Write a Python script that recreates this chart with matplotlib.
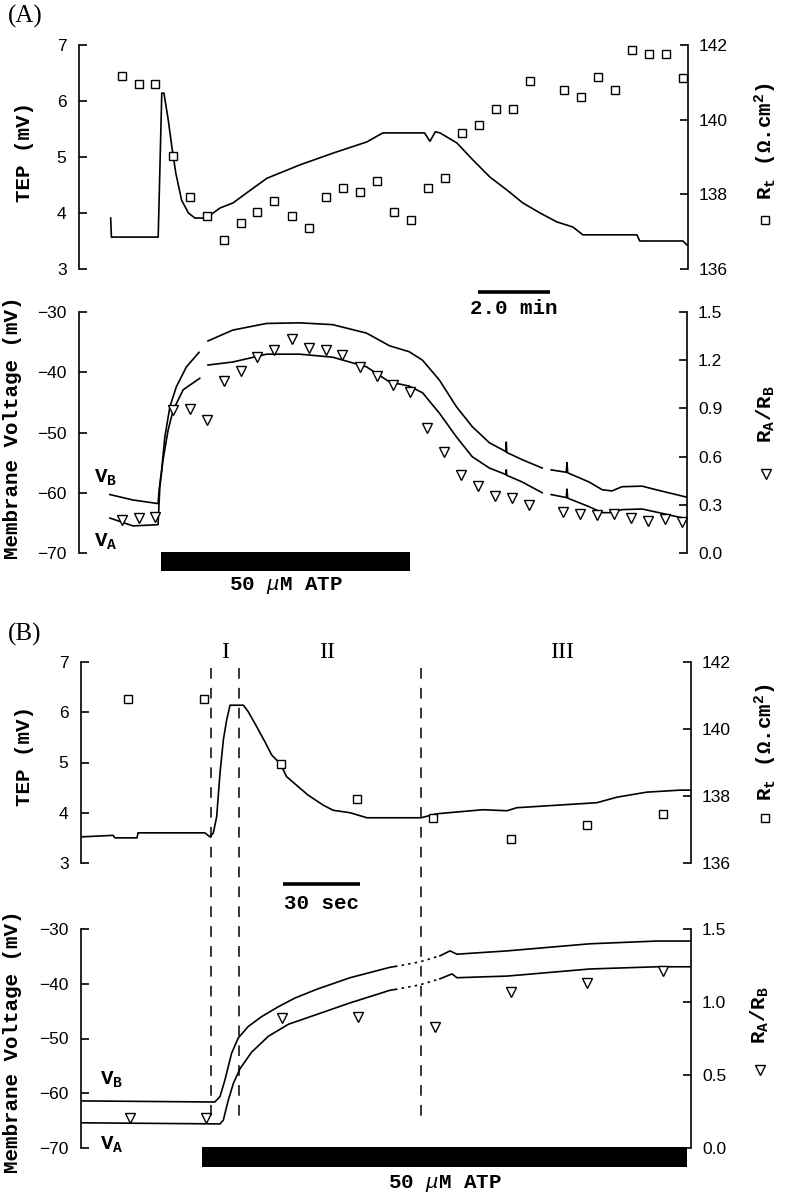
import numpy as np
import matplotlib
matplotlib.use("Agg")
import matplotlib.pyplot as plt
from matplotlib.lines import Line2D
from matplotlib.patches import Rectangle
from matplotlib.transforms import blended_transform_factory

nan = np.nan

# ---------------- panel A (time in min) ----------------
a_tep_t = [0.88, 0.9, 2.2, 2.3, 2.36, 2.48, 2.58, 2.69, 2.85, 3.04, 3.22, 3.45, 3.64, 3.92, 4.28, 4.66, 5.22, 6.14,
           7.06, 8.0, 8.44, 9.6, 9.75, 9.9, 10.03, 10.5, 10.94, 11.42, 11.89, 12.33, 12.81, 13.28, 13.72, 14.0,
           15.5, 15.58, 16.78, 16.89]
a_tep = [3.91, 3.57, 3.57, 6.14, 6.14, 5.66, 5.18, 4.71, 4.23, 4.0, 3.91, 3.91, 3.96, 4.09, 4.18, 4.36, 4.62, 4.86,
         5.07, 5.27, 5.43, 5.43, 5.28, 5.45, 5.43, 5.25, 4.95, 4.64, 4.41, 4.18, 4.0, 3.84, 3.75, 3.61,
         3.61, 3.5, 3.5, 3.43]

a_pt_t = [1.19, 1.67, 2.11, 2.61, 3.08, 3.56, 4.03, 4.5, 4.94, 5.42, 5.92, 6.39, 6.86, 7.33, 7.81, 8.28, 8.75,
          9.22, 9.69, 10.17, 10.64, 11.11, 11.58, 12.06, 12.53, 13.47, 13.94, 14.42, 14.89, 15.36, 15.83,
          16.31, 16.78]
a_rt = [141.17, 140.95, 140.95, 139.02, 137.94, 137.43, 136.79, 137.22, 137.54, 137.83, 137.43, 137.11,
        137.94, 138.16, 138.05, 138.37, 137.54, 137.30, 138.16, 138.45, 139.63, 139.85, 140.28, 140.28,
        141.03, 140.79, 140.60, 141.14, 140.79, 141.87, 141.76, 141.76, 141.11]
a_ratio = [0.205, 0.217, 0.223, 0.893, 0.899, 0.825, 1.073, 1.135, 1.221, 1.265, 1.333, 1.277, 1.265, 1.234,
           1.159, 1.104, 1.048, 1.004, 0.775, 0.626, 0.484, 0.415, 0.353, 0.341, 0.298, 0.254, 0.242, 0.236,
           0.242, 0.217, 0.198, 0.211, 0.192]

a_vb_t = [0.86, 1.5, 2.2, 2.23, 2.3, 2.39, 2.53, 2.71, 2.99, 3.34, 3.46, 3.59, 4.28, 5.22, 6.14, 7.06, 8.0, 8.64,
          9.19, 9.56, 10.03, 10.5, 10.94, 11.42, 11.89, 11.89, 11.9, 12.33, 12.89, 13.0, 13.14, 13.56, 13.58,
          13.6, 14.19, 14.56, 14.83, 15.11, 15.67, 16.06, 16.89]
a_vb = [-60.3, -61.2, -61.8, -59.5, -56.2, -50.7, -45.7, -42.4, -39.1, -36.7, nan, -34.8, -33.0, -31.9, -31.8,
        -32.1, -33.5, -35.6, -36.6, -38.0, -41.3, -45.7, -49.0, -51.7, -53.2, -51.6, -53.3, -54.5, -55.9, nan,
        -56.2, -56.6, -55.0, -56.7, -58.2, -59.5, -59.7, -59.0, -58.9, -59.5, -60.7]
a_va_t = [0.86, 1.5, 2.2, 2.25, 2.34, 2.48, 2.62, 2.9, 3.36, 3.47, 3.59, 4.28, 5.22, 6.14, 7.06, 8.0, 8.64, 9.19,
          9.56, 10.03, 10.5, 10.94, 11.42, 11.89, 11.89, 11.9, 12.33, 12.89, 13.0, 13.14, 13.56, 13.58, 13.6,
          14.19, 14.56, 14.83, 15.11, 15.67, 16.06, 16.89]
a_va = [-64.2, -65.5, -65.3, -59.0, -54.5, -49.6, -46.3, -42.9, -41.0, nan, -38.8, -38.3, -37.0, -37.0, -37.5,
        -39.1, -41.6, -42.3, -43.4, -46.8, -50.7, -54.0, -55.9, -57.0, -56.2, -57.1, -58.2, -60.0, nan, -60.3,
        -60.8, -59.4, -60.9, -62.3, -63.3, -63.3, -62.8, -62.7, -63.2, -64.3]

a_atp = (2.28, 9.22)      # min
a_scale = (11.08, 2.0)    # start, length (min)
a_xmax = 16.92

# ---------------- panel B (time in s) ----------------
b_tep_t = [0.0, 12.5, 13.2, 21.8, 22.2, 48.2, 50.2, 51.5, 52.8, 54.1, 55.4, 56.7, 58.0, 63.2, 65.1, 68.4, 71.6,
           74.2, 77.5, 80.0, 84.5, 88.4, 94.3, 98.1, 104.7, 111.3, 132.3, 138.5, 156.4, 165.8, 169.6, 200.8,
           208.6, 220.2, 233.1, 237.0]
b_tep = [3.52, 3.55, 3.5, 3.5, 3.6, 3.6, 3.52, 3.6, 3.92, 4.79, 5.45, 5.85, 6.14, 6.14, 6.01, 5.71, 5.41,
         5.15, 4.98, 4.72, 4.52, 4.35, 4.15, 4.05, 4.0, 3.9, 3.9, 3.98, 4.06, 4.04, 4.1, 4.2,
         4.31, 4.41, 4.45, 4.45]

b_rt_t = [18.3, 47.9, 77.8, 107.4, 137.0, 167.3, 196.9, 226.5]
b_rt = [140.9, 140.9, 138.96, 137.91, 137.34, 136.72, 137.13, 137.46]
b_ratio_t = [19.1, 48.6, 78.2, 107.8, 137.7, 167.3, 196.9, 226.5]
b_ratio = [0.205, 0.205, 0.89, 0.897, 0.829, 1.068, 1.13, 1.212]

b_vb_t = [0.4, 52.1, 54.1, 56.0, 58.6, 61.2, 65.1, 70.3, 76.8, 83.3, 91.8, 104.7, 120.2, 124.1, 131.9, 139.7,
          143.6, 146.3, 165.8, 198.1, 224.1, 237.0]
b_vb = [-61.4, -61.6, -60.6, -57.6, -52.7, -49.9, -47.8, -46.0, -44.2, -42.6, -41.0, -38.9, -37.0, -36.7, -36.0,
        -34.9, -34.0, -34.6, -34.0, -32.7, -32.2, -32.2]
b_va_t = [0.4, 54.1, 55.4, 57.3, 59.3, 61.9, 66.4, 72.9, 80.7, 91.8, 104.7, 120.2, 124.1, 131.9, 139.7, 144.4,
          146.3, 165.8, 198.1, 224.1, 237.0]
b_va = [-65.4, -65.6, -64.9, -61.3, -58.2, -55.5, -52.5, -49.6, -47.4, -45.6, -43.5, -41.2, -40.9, -40.2, -39.1,
        -38.2, -38.9, -38.6, -37.3, -36.9, -36.9]
b_dotted = (122.2, 139.7)

b_phase_t = [50.6, 61.5, 132.3]
b_phase_lab = ["I", "II", "III"]
b_phase_lab_t = [56.0, 95.7, 187.2]

b_atp = (47.1, 235.8)     # s
b_scale = (78.6, 30.0)
b_xmax = 237.4

# ---------------- figure ----------------
W, H = 788, 1199
plt.rcParams['font.family'] = ['Liberation Sans', 'DejaVu Sans']
plt.rcParams['mathtext.fontset'] = 'custom'
plt.rcParams['mathtext.rm'] = 'Liberation Mono'
plt.rcParams['mathtext.it'] = 'Liberation Mono:italic'
plt.rcParams['axes.linewidth'] = 1.2

LAB = dict(family='Liberation Mono', fontsize=15, fontweight='bold')
SERIF = dict(family='Liberation Serif', fontsize=17)
TRACE = dict(color='black', lw=1.2)
SQ = dict(ls='none', marker='s', ms=5.5, mfc='white', mec='black', mew=1.0)
TRI = dict(ls='none', marker='v', ms=6.5, mfc='white', mec='black', mew=1.0)

fig = plt.figure(figsize=(W / 100, H / 100), dpi=100)


def fx(px):
    return px / W


def fy(py):
    return 1 - py / H


def make_axes(left, top, right, bottom, xmax, ylim, yticks, ylim2, yticks2, fmt2):
    ax = fig.add_axes([fx(left), fy(bottom), (right - left) / W, (bottom - top) / H])
    ax2 = ax.twinx()
    for a in (ax, ax2):
        a.set_xlim(0, xmax)
        a.set_xticks([])
        a.spines['top'].set_visible(False)
        a.spines['bottom'].set_visible(False)
        a.patch.set_visible(False)
    ax.spines['right'].set_visible(False)
    ax2.spines['left'].set_visible(False)
    ax.set_ylim(*ylim)
    ax.set_yticks(yticks)
    ax2.set_ylim(*ylim2)
    ax2.set_yticks(yticks2)
    ax2.set_yticklabels([fmt2.format(v) for v in yticks2])
    ax.tick_params(axis='y', direction='in', length=6, width=1.2, labelsize=12.5, pad=9)
    ax2.tick_params(axis='y', direction='in', length=6, width=1.2, labelsize=12.5, pad=8)
    return ax, ax2


def ftext(x, y, s, **kw):
    fig.text(fx(x), fy(y), s, **kw)


def fmarker(x, y, style):
    st = dict(style)
    st.pop('ls')
    fig.add_artist(Line2D([fx(x)], [fy(y)], transform=fig.transFigure, ls='none', **st))


def scale_bar(ax, start, length, y_bar, y_txt, label):
    tr = blended_transform_factory(ax.transData, ax.transAxes)
    ax.plot([start, start + length], [y_bar, y_bar], transform=tr, clip_on=False, color='black', lw=2.6,
            solid_capstyle='butt')
    ax.text(start + length / 2, y_txt, label, transform=tr, ha='center', va='center', **LAB)


def atp_bar(ax, on_off, y0, y1):
    tr = blended_transform_factory(ax.transData, ax.transAxes)
    ax.add_patch(Rectangle((on_off[0], y1), on_off[1] - on_off[0], y0 - y1, transform=tr,
                           clip_on=False, fc='black', ec='none'))


def dotted_trace(ax, t, v, d0, d1):
    t = np.array(t)
    v = np.array(v)
    v0, v1 = np.interp([d0, d1], t, v)
    pre = t < d0
    mid = (t > d0) & (t < d1)
    post = t > d1
    ax.plot(np.r_[t[pre], d0], np.r_[v[pre], v0], **TRACE)
    ax.plot(np.r_[d0, t[mid], d1], np.r_[v0, v[mid], v1], color='black', lw=1.2, ls=(0, (1.5, 2.5)))
    ax.plot(np.r_[d1, t[post]], np.r_[v1, v[post]], **TRACE)


# ----- A top -----
axA1, axA1r = make_axes(79, 45, 688, 269, a_xmax, (3, 7), [3, 4, 5, 6, 7], (136, 142), [136, 138, 140, 142], '{:.0f}')
axA1.plot(a_tep_t, a_tep, **TRACE)
axA1r.plot(a_pt_t, a_rt, clip_on=False, **SQ)
scale_bar(axA1, a_scale[0], a_scale[1], -0.103, -0.175, '2.0 min')

# ----- A bottom -----
axA2, axA2r = make_axes(79, 312, 687, 553, a_xmax, (-70, -30), [-70, -60, -50, -40, -30],
                        (0, 1.5), [0.0, 0.3, 0.6, 0.9, 1.2, 1.5], '{:.1f}')
axA2.plot(a_vb_t, a_vb, **TRACE)
axA2.plot(a_va_t, a_va, **TRACE)
axA2r.plot(a_pt_t, a_ratio, clip_on=False, **TRI)
atp_bar(axA2, a_atp, 0.004, -0.075)
axA2.text(np.mean(a_atp), -0.133, r'50 $\mu$M ATP', transform=blended_transform_factory(axA2.transData, axA2.transAxes),
          ha='center', va='center', **LAB)

# ----- B top -----
axB1, axB1r = make_axes(81, 662, 691, 863, b_xmax, (3, 7), [3, 4, 5, 6, 7], (136, 142), [136, 138, 140, 142], '{:.0f}')
axB1.plot(b_tep_t, b_tep, **TRACE)
axB1r.plot(b_rt_t, b_rt, clip_on=False, **SQ)
scale_bar(axB1, b_scale[0], b_scale[1], -0.104, -0.2, '30 sec')

# ----- B bottom -----
axB2, axB2r = make_axes(81, 929, 691, 1148, b_xmax, (-70, -30), [-70, -60, -50, -40, -30],
                        (0, 1.5), [0.0, 0.5, 1.0, 1.5], '{:.1f}')
dotted_trace(axB2, b_vb_t, b_vb, *b_dotted)
dotted_trace(axB2, b_va_t, b_va, *b_dotted)
axB2r.plot(b_ratio_t, b_ratio, clip_on=False, **TRI)
atp_bar(axB2, b_atp, 0.005, -0.087)
axB2.text(np.mean(b_atp), -0.164, r'50 $\mu$M ATP', transform=blended_transform_factory(axB2.transData, axB2.transAxes),
          ha='center', va='center', **LAB)

# phase boundaries spanning both B panels
trd = blended_transform_factory(axB2.transData, fig.transFigure)
for t in b_phase_t:
    fig.add_artist(Line2D([t, t], [fy(668), fy(1119)], transform=trd, color='black', lw=1.1,
                          ls=(0, (7, 6))))
for t, s in zip(b_phase_lab_t, b_phase_lab):
    fig.text(t, fy(653), s, transform=trd, ha='center', va='center', **SERIF)

# ----- labels -----
ftext(25, 16, '(A)', ha='center', va='center', family='Liberation Serif', fontsize=18)
ftext(25, 634, '(B)', ha='center', va='center', family='Liberation Serif', fontsize=18)

ftext(24, 152, 'TEP (mV)', rotation=90, ha='center', va='center', **LAB)
ftext(24, 756, 'TEP (mV)', rotation=90, ha='center', va='center', **LAB)
ftext(13, 428, 'Membrane Voltage (mV)', rotation=90, ha='center', va='center', **LAB)
ftext(13, 1042, 'Membrane Voltage (mV)', rotation=90, ha='center', va='center', **LAB)

rt_lab = r'R$_\mathregular{t}$ (Ω.cm$^\mathregular{2}$)'
ratio_lab = r'R$_\mathregular{A}$/R$_\mathregular{B}$'
ftext(766, 141, rt_lab, rotation=90, ha='center', va='center', **LAB)
fmarker(765, 220, SQ)
ftext(766, 414, ratio_lab, rotation=90, ha='center', va='center', **LAB)
fmarker(766, 474, TRI)
ftext(766, 742, rt_lab, rotation=90, ha='center', va='center', **LAB)
fmarker(765, 818, SQ)
ftext(760, 1015, ratio_lab, rotation=90, ha='center', va='center', **LAB)
fmarker(760, 1070, TRI)

ftext(94, 483, r'V$_\mathregular{B}$', ha='left', va='baseline', **LAB)
ftext(94, 547, r'V$_\mathregular{A}$', ha='left', va='baseline', **LAB)
ftext(100, 1085, r'V$_\mathregular{B}$', ha='left', va='baseline', **LAB)
ftext(100, 1150, r'V$_\mathregular{A}$', ha='left', va='baseline', **LAB)

fig.savefig('out.png', dpi=100)
